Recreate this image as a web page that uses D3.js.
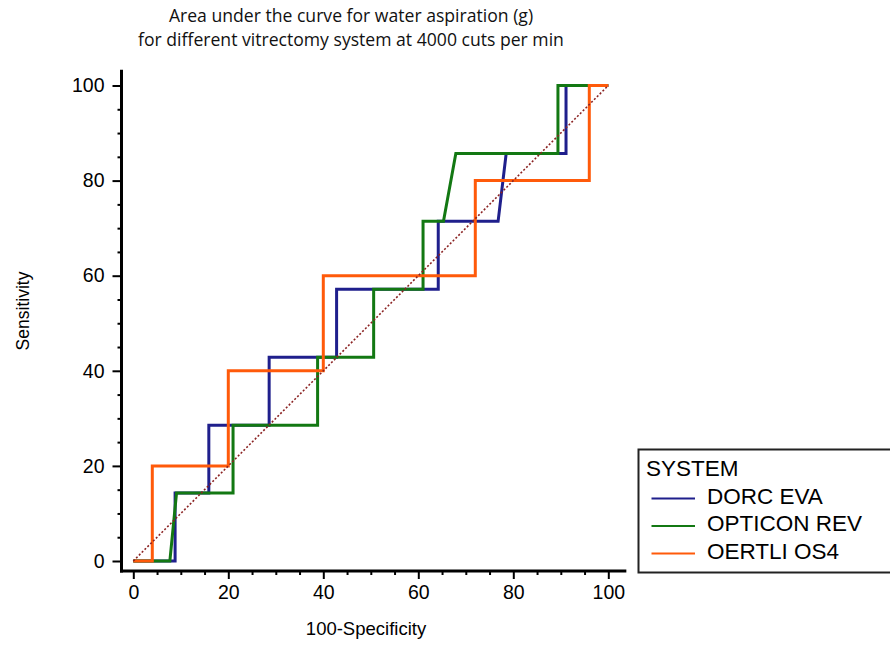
<!DOCTYPE html>
<html>
<head>
<meta charset="utf-8">
<script src="https://cdn.jsdelivr.net/npm/d3@7"></script>
<style>
  html, body { margin: 0; padding: 0; background: #fff; }
  svg { display: block; }
</style>
</head>
<body>
<svg id="chart" width="890" height="646"></svg>
<script>
// ROC curves: 100-Specificity (x) vs Sensitivity (y), one stepped curve per system
const systems = ["DORC EVA", "OPTICON REV", "OERTLI OS4"];
const colors = ["#1f1f8c", "#137813", "#ff5a0a"];

const dorcX = [0, 8.8, 8.8, 15.9, 15.9, 28.6, 28.6, 42.8, 42.8, 64.2, 64.2, 76.8, 78.5, 91.1, 91.1, 100];
const dorcY = [0, 0, 14.29, 14.29, 28.57, 28.57, 42.86, 42.86, 57.14, 57.14, 71.43, 71.43, 85.71, 85.71, 100, 100];

const opticonX = [0, 7.7, 9.1, 21.0, 21.0, 38.8, 38.8, 50.6, 50.6, 61.0, 61.0, 65.3, 67.9, 89.4, 89.4, 100];
const opticonY = [0, 0, 14.29, 14.29, 28.57, 28.57, 42.86, 42.86, 57.14, 57.14, 71.43, 71.43, 85.71, 85.71, 100, 100];

const oertliX = [0, 4, 4, 20, 20, 40, 40, 72, 72, 96, 96, 100];
const oertliY = [0, 0, 20, 20, 40, 40, 60, 60, 80, 80, 100, 100];

const majorTicks = [0, 20, 40, 60, 80, 100];
const minorTicks = [5, 10, 15, 25, 30, 35, 45, 50, 55, 65, 70, 75, 85, 90, 95];

const titleLines = [
  "Area under the curve for water aspiration (g)",
  "for different vitrectomy system at 4000 cuts per min"
];
const xTitle = "100-Specificity";
const yTitle = "Sensitivity";
const legendTitle = "SYSTEM";

const seriesX = [dorcX, opticonX, oertliX];
const seriesY = [dorcY, opticonY, oertliY];

const svg = d3.select("#chart");
const axisFont = "'Liberation Sans', Arial, sans-serif";

const x = d3.scaleLinear().domain([0, 100]).range([133.3, 608.3]);
const y = d3.scaleLinear().domain([0, 100]).range([561, 85.5]);

// axes sit slightly outside the data origin
const xAxisY = 571;
const yAxisX = 121.5;

// title
svg.append("g").selectAll("text").data(titleLines).join("text")
  .attr("x", 351)
  .attr("y", (d, i) => 22 + i * 24)
  .attr("text-anchor", "middle")
  .attr("font-family", "'Open Sans', sans-serif")
  .attr("font-size", 17.6)
  .attr("fill", "#111")
  .text(d => d);

// y axis
const yAxis = d3.axisLeft(y).tickValues(majorTicks).tickSize(9).tickPadding(8).tickFormat(d3.format("d"));
const yg = svg.append("g").attr("transform", `translate(${yAxisX},0)`).call(yAxis);
const yMinor = d3.axisLeft(y).tickValues(minorTicks).tickSize(4).tickFormat("");
const ygm = svg.append("g").attr("transform", `translate(${yAxisX},0)`).call(yMinor);

// x axis
const xAxis = d3.axisBottom(x).tickValues(majorTicks).tickSize(8).tickPadding(6).tickFormat(d3.format("d"));
const xg = svg.append("g").attr("transform", `translate(0,${xAxisY})`).call(xAxis);
const xMinor = d3.axisBottom(x).tickValues(minorTicks).tickSize(4).tickFormat("");
const xgm = svg.append("g").attr("transform", `translate(0,${xAxisY})`).call(xMinor);

[yg, ygm, xg, xgm].forEach(g => {
  g.select(".domain").remove();
  g.selectAll(".tick line").attr("stroke", "#000").attr("stroke-width", 2);
  g.selectAll(".tick text")
    .attr("font-family", axisFont)
    .attr("font-size", 19.5)
    .attr("fill", "#000");
});

// axis lines
svg.append("line")
  .attr("x1", yAxisX).attr("x2", yAxisX)
  .attr("y1", y(103.3)).attr("y2", xAxisY + 1.5)
  .attr("stroke", "#000").attr("stroke-width", 3);
svg.append("line")
  .attr("x1", yAxisX - 1.5).attr("x2", x(103.8))
  .attr("y1", xAxisY).attr("y2", xAxisY)
  .attr("stroke", "#000").attr("stroke-width", 3);

// axis titles
svg.append("text")
  .attr("x", 366).attr("y", 635)
  .attr("text-anchor", "middle")
  .attr("font-family", axisFont)
  .attr("font-size", 18.5)
  .attr("fill", "#000")
  .text(xTitle);
svg.append("text")
  .attr("transform", "translate(29,311) rotate(-90)")
  .attr("text-anchor", "middle")
  .attr("font-family", axisFont)
  .attr("font-size", 17.5)
  .attr("fill", "#000")
  .text(yTitle);

// ROC step curves
const line = d3.line().x(d => x(d[0])).y(d => y(d[1]));
systems.forEach((name, i) => {
  const pts = seriesX[i].map((v, j) => [v, seriesY[i][j]]);
  svg.append("path")
    .datum(pts)
    .attr("d", line)
    .attr("fill", "none")
    .attr("stroke", colors[i])
    .attr("stroke-width", 3)
    .attr("stroke-linejoin", "miter");
});

// reference diagonal
svg.append("path")
  .datum([[0, 0], [100, 100]])
  .attr("d", line)
  .attr("fill", "none")
  .attr("stroke", "#8b2323")
  .attr("stroke-width", 1.6)
  .attr("stroke-dasharray", "2,2");

// legend
const lg = svg.append("g");
lg.append("rect")
  .attr("x", 638.5).attr("y", 449.5)
  .attr("width", 270).attr("height", 123)
  .attr("fill", "#fff")
  .attr("stroke", "#222")
  .attr("stroke-width", 2);
lg.append("text")
  .attr("x", 646).attr("y", 476)
  .attr("font-family", axisFont)
  .attr("font-size", 22.5)
  .attr("fill", "#000")
  .text(legendTitle);
systems.forEach((name, i) => {
  const cy = 498.5 + i * 27.5;
  lg.append("line")
    .attr("x1", 651.5).attr("x2", 695)
    .attr("y1", cy).attr("y2", cy)
    .attr("stroke", colors[i]).attr("stroke-width", 2.2);
  lg.append("text")
    .attr("x", 707).attr("y", cy + 5)
    .attr("font-family", axisFont)
    .attr("font-size", 22.5)
    .attr("fill", "#000")
    .text(name);
});
</script>
</body>
</html>
